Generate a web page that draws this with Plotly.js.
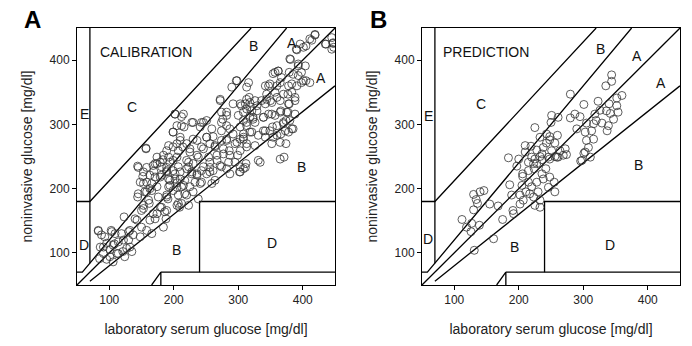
<!DOCTYPE html>
<html>
<head>
<meta charset="utf-8">
<script src="https://cdn.plot.ly/plotly-3.0.1.min.js"></script>
<style>
  html, body { margin: 0; padding: 0; background: #fff; }
  #chart { width: 692px; height: 346px; }
</style>
</head>
<body>
<div id="chart"></div>
<script>
// calibration set: [laboratory serum glucose, noninvasive glucose] (mg/dl)
var calPoints = [
  [83,134],[88,128],[86,109],[85,91],[91,99],[96,115],[103,135],[101,105],[96,90],[108,114],[114,117],[112,99],[106,86],[109,130],[119,130],[123,156],[130,120],[127,107],[121,102],[132,135],[137,128],[124,94],[135,102],[140,153],[144,187],[144,235],[152,219],[157,262],[153,169],[150,140],[148,125],[158,135],[163,151],[166,130],[168,161],[162,177],[158,195],[158,210],[166,208],[169,227],[171,239],[174,249],[183,245],[181,234],[179,218],[174,203],[176,187],[179,171],[174,161],[184,140],[189,166],[188,153],[191,184],[192,203],[194,213],[189,226],[192,249],[189,259],[199,265],[199,288],[202,316],[212,312],[216,296],[210,280],[205,270],[214,265],[205,249],[207,234],[202,223],[205,209],[199,197],[207,177],[209,171],[220,244],[223,234],[225,257],[230,303],[220,270],[228,223],[217,213],[225,203],[217,192],[212,203],[236,275],[241,296],[246,303],[243,265],[238,249],[246,234],[236,223],[241,208],[233,210],[251,223],[254,249],[256,270],[251,280],[261,281],[264,265],[267,244],[261,228],[264,213],[259,208],[272,337],[274,290],[274,275],[276,308],[282,298],[282,275],[277,254],[285,241],[274,234],[287,223],[286,259],[292,285],[295,270],[298,368],[300,314],[303,296],[299,252],[303,234],[302,226],[308,231],[312,239],[313,265],[308,280],[313,303],[311,332],[316,365],[313,358],[317,342],[319,327],[323,311],[326,337],[329,321],[334,241],[339,311],[342,332],[342,290],[344,347],[347,360],[350,337],[352,316],[353,296],[354,280],[360,360],[357,381],[362,383],[365,365],[360,342],[366,321],[370,301],[371,249],[374,270],[366,285],[374,306],[377,319],[379,332],[377,347],[383,363],[379,381],[385,293],[388,316],[388,342],[393,376],[393,394],[398,365],[401,368],[404,391],[381,401],[390,417],[401,420],[405,422],[414,431],[419,439],[436,425],[445,435],[447,426],[445,417],
  [157,263],[145,233],[153,226],[148,210],[155,195],[153,174],[163,200],[168,236],[171,218],[179,241],[184,252],[181,221],[189,228],[194,241],[192,267],[199,288],[205,298],[202,316],[212,298],[215,316],[210,275],[207,259],[199,244],[202,215],[194,205],[189,190],[210,226],[215,205],[207,190],[205,174],[228,303],[230,277],[225,262],[223,241],[228,226],[236,252],[243,303],[246,262],[236,221],[243,210],[230,195],[220,190],[223,174],[238,184],[251,280],[259,293],[256,241],[256,226],[264,267],[267,252],[272,339],[274,303],[282,314],[274,319],[287,293],[282,277],[277,262],[272,236],[282,231],[287,252],[298,272],[303,332],[308,319],[313,339],[321,321],[313,298],[308,277],[303,259],[295,241],[303,226],[311,233],[331,244],[323,308],[321,288],
  [83,135],[93,125],[104,133],[91,109],[106,112],[114,99],[101,94],[122,120],[130,133],[132,109],[143,151],[150,166],[145,192],[153,208],[163,221],[161,182],[166,197],[171,153],[181,171],[189,187],[186,164],[192,215],[199,228],[189,233],[205,202],[210,215],[220,231],[212,177],[158,233],[174,239],[230,239],[243,228],[256,233],
  [419,440],[411,433],[396,425],[391,416],[435,425],[447,427],[448,420],[380,402],[393,391],[398,381],[405,368],[411,365],[362,383],[354,379],[367,373],[385,378],[391,360],[378,360],[342,360],[349,363],[357,350],[370,347],[383,350],[388,337],[378,332],[365,337],[352,334],[344,339],[336,337],[329,329],[318,334],[313,324],[305,329],[297,368],[308,306],[318,311],[326,303],[339,311],[347,316],[357,314],[365,319],[375,319],[380,306],[370,303],[360,298],[373,290],[383,293],[360,283],[349,290],[339,290],[331,283],[318,288],[308,285],[303,277],[313,270],[326,267],[342,280],[352,270],[365,272],[378,288],[365,246],[292,332],[290,358],[282,319],[251,306]
];

// prediction set
var predPoints = [
  [112,152],[130,191],[134,183],[136,177],[140,195],[146,197],[130,167],[127,146],[119,140],[126,133],[139,143],[131,104],[155,176],[168,173],[161,122],[175,152],[184,248],[200,246],[197,235],[186,206],[189,190],[191,166],[192,161],[202,176],[206,219],[205,205],[202,190],[215,210],[211,195],[217,192],[207,182],[220,249],[215,241],[224,231],[233,250],[228,239],[236,223],[238,215],[228,210],[220,203],[223,187],[230,195],[233,182],[225,174],[233,171],[246,249],[256,250],[242,231],[248,218],[246,202],[256,195],[255,210],[261,249],[269,252],[301,255],[296,243],
  [344,377],[344,367],[335,360],[360,345],[352,341],[323,336],[340,332],[352,329],[326,322],[336,321],[342,317],[354,319],[347,308],[318,316],[320,306],[280,347],[301,331],[287,316],[295,312],[280,310],[251,314],[261,311],[250,303],[305,302],[316,301],[329,302],[339,298],[290,293],[303,288],[313,290],[337,290],[305,275],[316,277],[308,264],[303,257],[298,244],[311,249],[225,295],[233,280],[248,281],[260,283],[256,271],[243,271],[238,264],[228,260],[219,266],[236,254],[251,259],[264,259],[272,262],[274,253],[259,249],[248,246],[236,245],[225,246],[210,267],[210,257],[223,239],[206,223],[215,228],[243,285],[248,276]
];

// error grid zone boundaries (null separates segments)
var gridX = [50,450,null, 50,58.33,375,null, 70,70,null, 50,70,320,null, 70,450,null, 165.7,180,180,null, 180,450,null, 240,240,450];
var gridY = [50,450,null, 70,70,450,null, 84,450,null, 180,180,450,null, 56,360,null, 50,70,50,null, 70,70,null, 70,180,180];

// zone labels per panel
var calLabels = [
  {t:'B', x:324, y:422}, {t:'A', x:383, y:427}, {t:'A', x:428, y:372},
  {t:'C', x:135, y:327}, {t:'E', x:61, y:316}, {t:'B', x:398, y:233},
  {t:'D', x:61, y:112}, {t:'B', x:205, y:105}, {t:'D', x:352, y:115}
];
var predLabels = [
  {t:'B', x:326, y:418}, {t:'A', x:384, y:407}, {t:'A', x:421, y:365},
  {t:'C', x:142, y:331}, {t:'E', x:60, y:313}, {t:'B', x:385, y:237},
  {t:'D', x:60, y:121}, {t:'B', x:194, y:109}, {t:'D', x:341, y:113}
];

var FONT = 'Liberation Sans, Arial, Helvetica, sans-serif';

function pointsTrace(pts, xa, ya) {
  return {
    x: pts.map(function(p) { return p[0]; }),
    y: pts.map(function(p) { return p[1]; }),
    xaxis: xa, yaxis: ya,
    type: 'scatter', mode: 'markers',
    marker: { symbol: 'circle-open', size: 8, color: '#333', line: { width: 0.8, color: '#333' } },
    hoverinfo: 'x+y', showlegend: false
  };
}

function gridTrace(xa, ya) {
  return {
    x: gridX, y: gridY, xaxis: xa, yaxis: ya,
    type: 'scatter', mode: 'lines',
    line: { color: '#000', width: 1.3 },
    connectgaps: false, hoverinfo: 'skip', showlegend: false
  };
}

function xAxis(domain, anchor) {
  return {
    domain: domain, anchor: anchor, range: [50, 450],
    tickvals: [100, 200, 300, 400], ticks: 'outside', ticklen: 4, tickcolor: '#000',
    showline: true, mirror: true, linecolor: '#000', linewidth: 1,
    showgrid: false, zeroline: false,
    tickfont: { family: FONT, size: 12, color: '#222' },
    title: { text: 'laboratory serum glucose [mg/dl]', font: { family: FONT, size: 14, color: '#222' }, standoff: 17 }
  };
}

function yAxis(domain, anchor) {
  return {
    domain: domain, anchor: anchor, range: [50, 450],
    tickvals: [100, 200, 300, 400], ticks: 'outside', ticklen: 4, tickcolor: '#000',
    showline: true, mirror: true, linecolor: '#000', linewidth: 1,
    showgrid: false, zeroline: false,
    tickfont: { family: FONT, size: 12, color: '#222' },
    title: { text: 'noninvasive glucose [mg/dl]', font: { family: FONT, size: 14, color: '#222' }, standoff: 13 }
  };
}

var annotations = [];
calLabels.forEach(function(l) {
  annotations.push({ text: l.t, x: l.x, y: l.y, xref: 'x', yref: 'y', showarrow: false, font: { family: FONT, size: 14, color: '#111' } });
});
predLabels.forEach(function(l) {
  annotations.push({ text: l.t, x: l.x, y: l.y, xref: 'x2', yref: 'y2', showarrow: false, font: { family: FONT, size: 14, color: '#111' } });
});
annotations.push({ text: 'CALIBRATION', x: 82, y: 413, xref: 'x', yref: 'y', xanchor: 'left', showarrow: false, font: { family: FONT, size: 14, color: '#111' } });
annotations.push({ text: 'PREDICTION', x: 79, y: 413, xref: 'x2', yref: 'y2', xanchor: 'left', showarrow: false, font: { family: FONT, size: 14, color: '#111' } });
annotations.push({ text: '<b>A</b>', x: 32 / 692, y: 1 - 20 / 346, xref: 'paper', yref: 'paper', xanchor: 'center', yanchor: 'middle', showarrow: false, font: { family: FONT, size: 24, color: '#000' } });
annotations.push({ text: '<b>B</b>', x: 378 / 692, y: 1 - 20 / 346, xref: 'paper', yref: 'paper', xanchor: 'center', yanchor: 'middle', showarrow: false, font: { family: FONT, size: 24, color: '#000' } });

var data = [
  gridTrace('x', 'y'), pointsTrace(calPoints, 'x', 'y'),
  gridTrace('x2', 'y2'), pointsTrace(predPoints, 'x2', 'y2')
];

var layout = {
  width: 692, height: 346,
  margin: { l: 0, r: 0, t: 0, b: 0 },
  paper_bgcolor: '#fff', plot_bgcolor: '#fff',
  xaxis: xAxis([77 / 692, 335 / 692], 'y'),
  yaxis: yAxis([1 - 285 / 346, 1 - 28 / 346], 'x'),
  xaxis2: xAxis([422 / 692, 680 / 692], 'y2'),
  yaxis2: yAxis([1 - 285 / 346, 1 - 28 / 346], 'x2'),
  annotations: annotations
};

Plotly.newPlot('chart', data, layout, { displayModeBar: false, staticPlot: true });
</script>
</body>
</html>
